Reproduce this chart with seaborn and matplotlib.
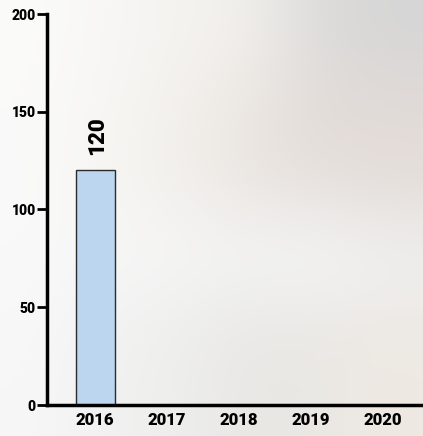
import numpy as np
import pandas as pd
import matplotlib
matplotlib.use('Agg')
import matplotlib.pyplot as plt
import matplotlib.colors as mcolors
import seaborn as sns

# chart data
years = ['2016', '2017', '2018', '2019', '2020']
values = [120, 0, 0, 0, 0]
y_ticks = [0, 50, 100, 150, 200]

df = pd.DataFrame({'Year': years, 'Value': values})

sns.set_theme(style='white')
plt.rcParams['font.family'] = ['Roboto', 'DejaVu Sans']

fig = plt.figure(figsize=(4.23, 4.36), dpi=100)

# soft blurred backdrop, roughly like the photo behind the chart
bg_rows = [
    ['#fbfbfa', '#f8f7f5', '#f5f3f0', '#f2f0ec', '#dcdbda', '#d6d6d6'],
    ['#fafaf9', '#f7f6f3', '#f3f1ed', '#ebe6e2', '#e3dcd8', '#e2dbd8'],
    ['#fafafa', '#f6f5f2', '#f2f0ec', '#ebe5e1', '#e6e0dc', '#e4ddd9'],
    ['#f9f9f9', '#f7f7f7', '#f6f6f6', '#f4f5f5', '#f5f6f6', '#f0f0f0'],
    ['#f8f8f8', '#f2f2f2', '#efefee', '#e9e8e5', '#ebe9e6', '#ede9e4'],
    ['#f7f7f7', '#f1f1f1', '#eeeeed', '#e8e7e4', '#eae8e4', '#efe9e2'],
]
bg = np.array([[mcolors.to_rgb(c) for c in row] for row in bg_rows])
bg_ax = fig.add_axes([0, 0, 1, 1], zorder=-1)
bg_ax.imshow(bg, aspect='auto', interpolation='bicubic', extent=[0, 1, 0, 1])
bg_ax.axis('off')

ax = fig.add_axes([47 / 423, 31 / 436, 376 / 423, 391 / 436])
ax.patch.set_alpha(0)

sns.barplot(data=df, x='Year', y='Value', color='#bcd6f0', width=0.54,
            edgecolor='#2b2b2b', linewidth=1, saturation=1, ax=ax)

for i, v in enumerate(values):
    if v > 0:
        ax.text(i + 0.03, v + 8, str(v), rotation=90, ha='center', va='bottom',
                fontsize=16, fontweight='black', color='black')

ax.set_ylim(0, 200)
ax.set_xlim(-0.67, 4.56)
ax.set_yticks(y_ticks)
ax.set_yticklabels([str(t) for t in y_ticks], fontsize=10, fontweight='black', color='black')
ax.set_xticks(range(len(years)))
ax.set_xticklabels(years, fontsize=12, fontweight='black', color='black')
ax.set_xlabel('')
ax.set_ylabel('')

ax.tick_params(axis='y', length=7, width=2, color='black', pad=1, direction='out', left=True)
ax.tick_params(axis='x', length=0, pad=5)

for side in ['top', 'right']:
    ax.spines[side].set_visible(False)
for side in ['left', 'bottom']:
    ax.spines[side].set_linewidth(2.5)
    ax.spines[side].set_color('black')

fig.savefig('out.png', dpi=100)
